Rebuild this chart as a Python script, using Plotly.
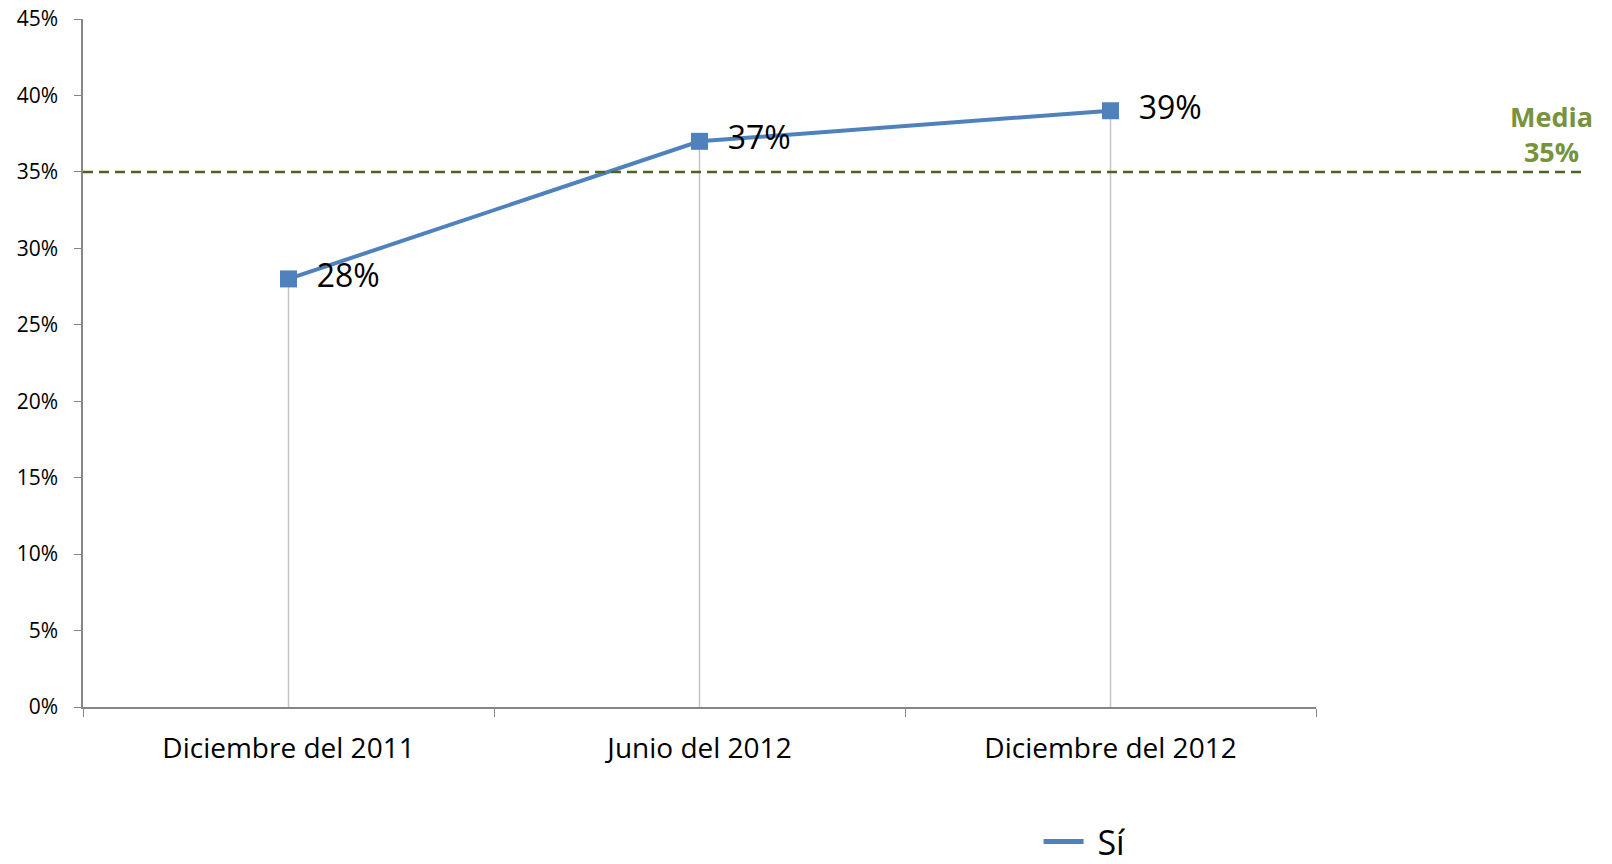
import plotly.graph_objects as go

categorias = ["Diciembre del 2011", "Junio del 2012", "Diciembre del 2012"]
valores_si = [0.28, 0.37, 0.39]
etiquetas_si = ["28%", "37%", "39%"]
media = 0.35
serie_nombre = "Sí"

FONT = "Open Sans"
BLUE = "#4F81BD"

fig = go.Figure()

# drop lines from each point to the axis
dx, dy = [], []
for c, v in zip(categorias, valores_si):
    dx += [c, c, None]
    dy += [0, v, None]
fig.add_trace(go.Scatter(x=dx, y=dy, mode="lines", line=dict(color="#C4C4C4", width=1.5),
                         showlegend=False, hoverinfo="skip"))

fig.add_trace(go.Scatter(
    x=categorias, y=valores_si, name=serie_nombre, mode="lines+markers+text",
    line=dict(color=BLUE, width=4),
    marker=dict(symbol="square", size=17, color=BLUE),
    text=["  " + t for t in etiquetas_si], textposition="middle right",
    textfont=dict(family=FONT, size=32, color="black"),
    showlegend=False,
))
# legend entry (line only, as in the original)
fig.add_trace(go.Scatter(x=[None], y=[None], mode="lines", name="\u00a0" + serie_nombre,
                         line=dict(color=BLUE, width=5)))

fig.add_shape(type="line", xref="paper", yref="y", x0=0, x1=1.215, y0=media, y1=media,
              line=dict(color="#4F6228", width=2.5, dash="10px,6px"))
fig.add_annotation(xref="paper", yref="y", x=1.191, y=media, yanchor="bottom", xanchor="center",
                   text="<b>Media<br>%d%%</b>" % round(media * 100), showarrow=False,
                   font=dict(family=FONT, size=27, color="#77933C"), yshift=0,
                   align="center")

fig.update_layout(
    width=1612, height=864,
    margin=dict(l=75, r=304, t=0, b=165),
    plot_bgcolor="white", paper_bgcolor="white",
    font=dict(family=FONT, color="black"),
    showlegend=True,
    legend=dict(orientation="h", x=0.775, y=-0.2346, xanchor="left", yanchor="bottom",
                font=dict(family=FONT, size=34), itemwidth=40),
    xaxis=dict(type="category", tickson="boundaries", ticks="outside", ticklen=8,
               tickcolor="#868686", showline=True, linecolor="#868686", linewidth=1.5,
               showgrid=False, tickfont=dict(family=FONT, size=28), range=[-0.5, 2.5],
               ticklabelstandoff=16, automargin=False),
    yaxis=dict(range=[0, 0.45], dtick=0.05, tickformat=".0%", ticks="outside", ticklen=7,
               domain=[0, 1 - 11 / 699],
               tickcolor="#868686", showline=True, linecolor="#868686", linewidth=1.5,
               showgrid=False, zeroline=False, tickfont=dict(family=FONT, size=21),
               ticklabelstandoff=12, automargin=False, ticklabeloverflow="allow"),
)

fig.write_html("out.html")
